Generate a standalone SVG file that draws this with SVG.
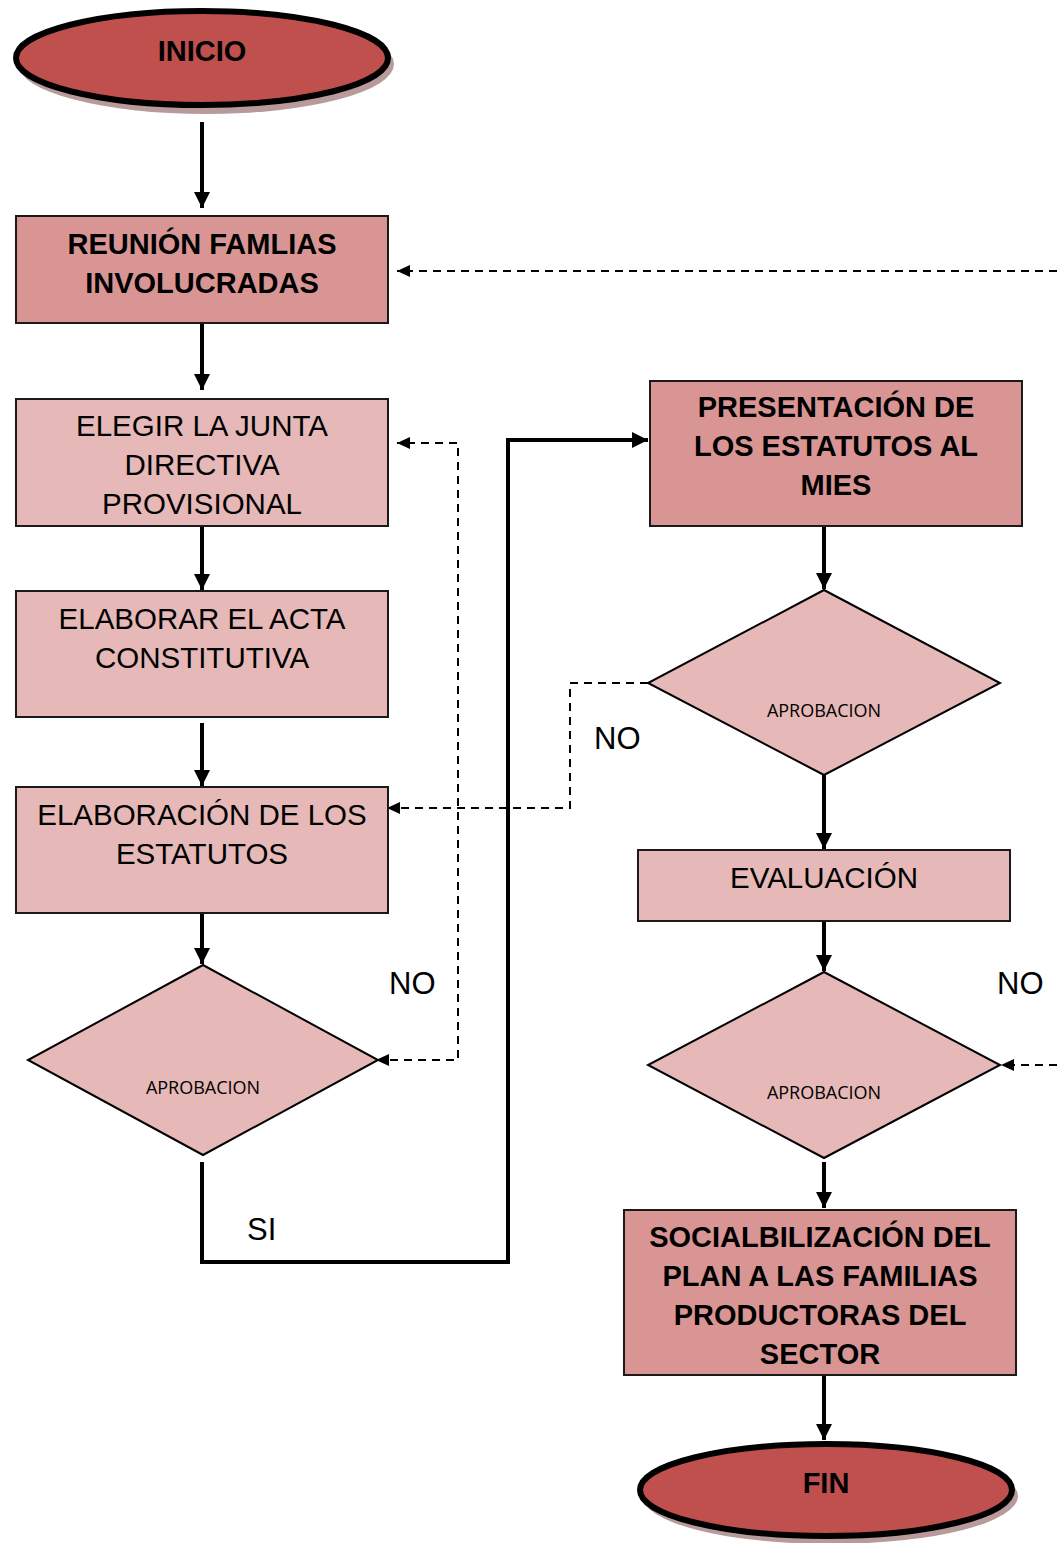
<svg xmlns="http://www.w3.org/2000/svg" width="1057" height="1543" viewBox="0 0 1057 1543">
<style>
.term{fill:#c0504d;stroke:#000;stroke-width:6}
.shadow{fill:#b89a9a;stroke:none}
.dark{fill:#d99594;stroke:#1a1a1a;stroke-width:2}
.light{fill:#e6b8b7;stroke:#1a1a1a;stroke-width:2}
.dia{fill:#e6b8b7;stroke:#000;stroke-width:2}
.bold{font-family:"Liberation Sans",Arial,sans-serif;font-weight:bold;font-size:29px;fill:#000;text-anchor:middle}
.reg{font-family:"Liberation Sans",Arial,sans-serif;font-size:29.5px;fill:#000;text-anchor:middle}
.small{font-family:"Open Sans","Noto Sans",sans-serif;font-size:18px;fill:#000;text-anchor:middle}
.lbl{font-family:"Liberation Sans",Arial,sans-serif;font-size:31px;fill:#000}
.thick{fill:none;stroke:#000;stroke-width:4}
.dash{fill:none;stroke:#000;stroke-width:2;stroke-dasharray:8 6}
</style>
<defs>
<marker id="ah" markerUnits="userSpaceOnUse" markerWidth="18" markerHeight="18" refX="16" refY="8" orient="auto">
<path d="M0,0 L16,8 L0,16 z" fill="#000"/>
</marker>
<marker id="ahs" markerUnits="userSpaceOnUse" markerWidth="14" markerHeight="14" refX="13" refY="6" orient="auto-start-reverse">
<path d="M0,0 L13,6 L0,12 z" fill="#000"/>
</marker>
</defs>

<g id="connectors">
<line class="thick" x1="202" y1="122" x2="202" y2="208" marker-end="url(#ah)"/>
<line class="thick" x1="202" y1="323" x2="202" y2="390" marker-end="url(#ah)"/>
<line class="thick" x1="202" y1="526" x2="202" y2="590" marker-end="url(#ah)"/>
<line class="thick" x1="202" y1="723" x2="202" y2="786" marker-end="url(#ah)"/>
<line class="thick" x1="202" y1="913" x2="202" y2="964" marker-end="url(#ah)"/>
<polyline class="thick" points="202,1162 202,1262 508,1262 508,440 648,440" marker-end="url(#ah)"/>
<line class="thick" x1="824" y1="526" x2="824" y2="589" marker-end="url(#ah)"/>
<line class="thick" x1="824" y1="775" x2="824" y2="849" marker-end="url(#ah)"/>
<line class="thick" x1="824" y1="921" x2="824" y2="971" marker-end="url(#ah)"/>
<line class="thick" x1="824" y1="1162" x2="824" y2="1208" marker-end="url(#ah)"/>
<line class="thick" x1="824" y1="1375" x2="824" y2="1440" marker-end="url(#ah)"/>
<polyline class="dash" points="376,1060 458,1060 458,443 397,443" marker-start="url(#ahs)" marker-end="url(#ahs)"/>
<polyline class="dash" points="648,683 570,683 570,808 387,808" marker-end="url(#ahs)"/>
<line class="dash" x1="1057" y1="1065" x2="1001" y2="1065" marker-end="url(#ahs)"/>
<line class="dash" x1="1057" y1="271" x2="397" y2="271" marker-end="url(#ahs)"/>
<text class="lbl" x="389" y="994">NO</text>
<text class="lbl" x="594" y="749">NO</text>
<text class="lbl" x="997" y="994">NO</text>
<text class="lbl" x="247" y="1240">SI</text>
</g>

<g id="inicio">
<ellipse class="shadow" cx="206" cy="64" rx="188" ry="50"/>
<ellipse class="term" cx="202" cy="58" rx="186" ry="47"/>
<text class="bold" x="202" y="61">INICIO</text>
</g>

<g id="reunion">
<rect class="dark" x="16" y="216" width="372" height="107"/>
<text class="bold" x="202" y="254">REUNIÓN FAMLIAS</text>
<text class="bold" x="202" y="293">INVOLUCRADAS</text>
</g>

<g id="elegir">
<rect class="light" x="16" y="399" width="372" height="127"/>
<text class="reg" x="202" y="436">ELEGIR LA JUNTA</text>
<text class="reg" x="202" y="475">DIRECTIVA</text>
<text class="reg" x="202" y="514">PROVISIONAL</text>
</g>

<g id="elaborar">
<rect class="light" x="16" y="591" width="372" height="126"/>
<text class="reg" x="202" y="629">ELABORAR EL ACTA</text>
<text class="reg" x="202" y="668">CONSTITUTIVA</text>
</g>

<g id="estatutos">
<rect class="light" x="16" y="787" width="372" height="126"/>
<text class="reg" x="202" y="825">ELABORACIÓN DE LOS</text>
<text class="reg" x="202" y="864">ESTATUTOS</text>
</g>

<g id="aprobacion1">
<polygon class="dia" points="203,965 378,1060 203,1155 28,1060"/>
<text class="small" x="203" y="1094">APROBACION</text>
</g>

<g id="presentacion">
<rect class="dark" x="650" y="381" width="372" height="145"/>
<text class="bold" x="836" y="417">PRESENTACIÓN DE</text>
<text class="bold" x="836" y="456">LOS ESTATUTOS AL</text>
<text class="bold" x="836" y="495">MIES</text>
</g>

<g id="aprobacion2">
<polygon class="dia" points="824,590 1000,683 824,775 648,683"/>
<text class="small" x="824" y="717">APROBACION</text>
</g>

<g id="evaluacion">
<rect class="light" x="638" y="850" width="372" height="71"/>
<text class="reg" x="824" y="888">EVALUACIÓN</text>
</g>

<g id="aprobacion3">
<polygon class="dia" points="824,972 1000,1065 824,1158 648,1065"/>
<text class="small" x="824" y="1099">APROBACION</text>
</g>

<g id="socializacion">
<rect class="dark" x="624" y="1210" width="392" height="165"/>
<text class="bold" x="820" y="1247">SOCIALBILIZACIÓN DEL</text>
<text class="bold" x="820" y="1286">PLAN A LAS FAMILIAS</text>
<text class="bold" x="820" y="1325">PRODUCTORAS DEL</text>
<text class="bold" x="820" y="1364">SECTOR</text>
</g>

<g id="fin">
<ellipse class="shadow" cx="830" cy="1496" rx="188" ry="48"/>
<ellipse class="term" cx="826" cy="1490" rx="186" ry="46"/>
<text class="bold" x="826" y="1493">FIN</text>
</g>
</svg>
